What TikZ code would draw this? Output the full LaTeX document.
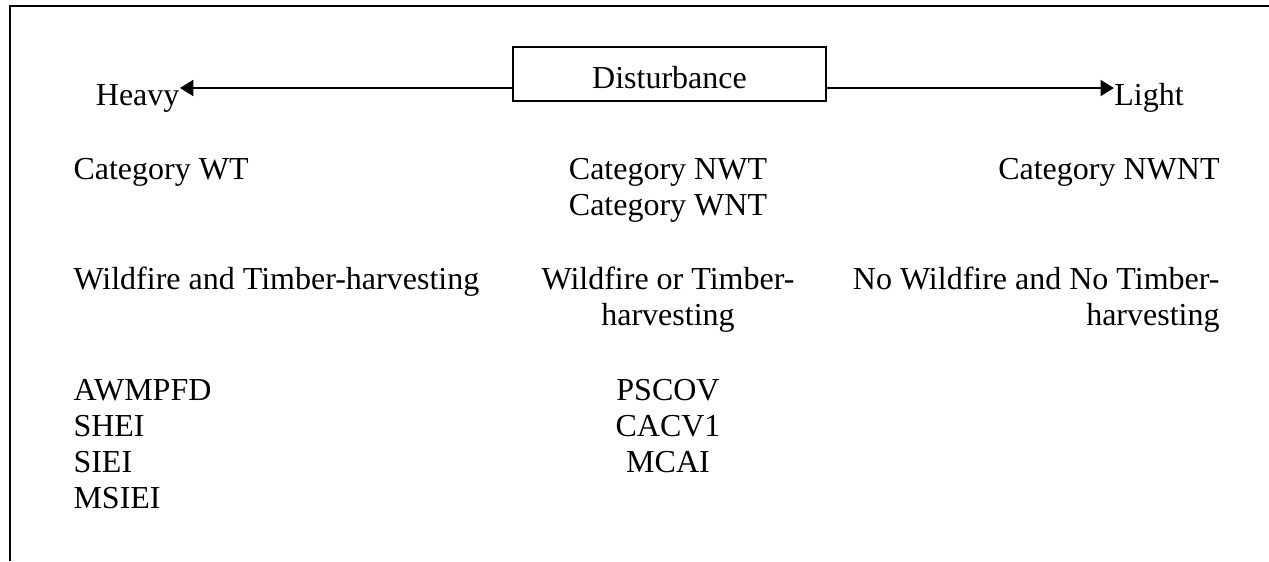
\documentclass[tikz,border=0pt]{standalone}
\usepackage{fontspec}
\setmainfont{Liberation Serif}
\usetikzlibrary{arrows.meta}

\begin{document}
\begin{tikzpicture}[
  txt/.style={inner sep=0pt, font=\fontsize{12}{13.5}\selectfont},
  arr/.style={-{Triangle[length=5pt, width=6pt]}, line width=0.75pt}]
\useasboundingbox (0, 0) rectangle (16.725, -7.394);
\draw[line width=0.75pt] (0.132, -7.394) -- (0.132, -0.079) -- (16.725, -0.079);
\node[txt, draw, line width=0.75pt, minimum width=4.126cm, text height=0.54cm, text depth=0.171cm, anchor=base] (dist) at (8.824, -1.160) {Disturbance};
\node[txt, anchor=base east] (heavy) at (2.372, -1.384) {Heavy};
\node[txt, anchor=base west] (light) at (14.680, -1.390) {Light};
\draw[arr] (dist.base west) -- (dist.base west -| heavy.east);
\draw[arr] (dist.base east) -- (dist.base east -| light.west);
% categories (base = last line)
\node[txt, anchor=base west] (catwt) at (0.962, -2.372) {Category WT};
\node[txt, anchor=base, align=center] (catmid) at (8.804, -2.846) {Category NWT\\Category WNT};
\node[txt, anchor=base east] (catnwnt) at (16.08, -2.372) {Category NWNT};
% disturbance types
\node[txt, anchor=base west] (typwt) at (0.962, -3.822) {Wildfire and Timber-harvesting};
\node[txt, anchor=base, align=center] (typmid) at (8.804, -4.296) {Wildfire or Timber-\\harvesting};
\node[txt, anchor=base east, align=right] (typnwnt) at (16.08, -4.296) {No Wildfire and No Timber-\\harvesting};
% indices
\node[txt, anchor=base west, align=left] (idxwt) at (0.962, -6.707) {AWMPFD\\SHEI\\SIEI\\MSIEI};
\node[txt, anchor=base, align=center] (idxmid) at (8.804, -6.233) {PSCOV\\CACV1\\MCAI};
\end{tikzpicture}
\end{document}
